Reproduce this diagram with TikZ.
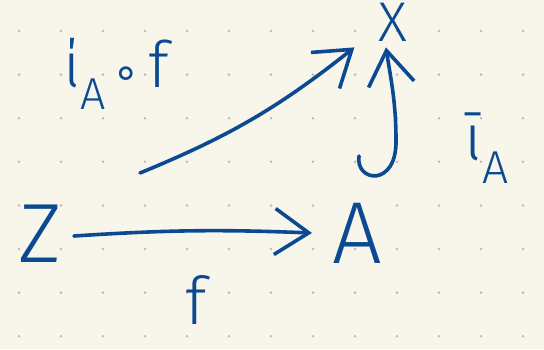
\documentclass[tikz,border=0pt]{standalone}
\usepackage{fontspec}
\setmainfont{Fira Sans}[UprightFont={* Light}]
\newfontfamily\dvfont{DejaVu Sans}
\usetikzlibrary{arrows.meta,calc}
\definecolor{ink}{HTML}{0B4A93}
\definecolor{paper}{HTML}{F8F6EB}
\definecolor{dotc}{HTML}{BDBBB4}
\tikzset{
  obj/.style={inner sep=0pt, text=ink},
  lbl/.style={inner sep=0pt, text=ink},
  arr/.style={draw=ink, line width=3.6pt, line cap=round,
    -{Straight Barb[length=34pt,width=46pt,line width=3.6pt]}},
}
\begin{document}
\begin{tikzpicture}[x=1pt,y=-1pt]
\fill[paper] (0,0) rectangle (544,349);
\useasboundingbox (0,0) rectangle (544,349);
\foreach \i in {0,...,12}{
  \foreach \j in {0,...,7}{
    \fill[dotc] ({19+42*\i},{31+43.6*\j}) circle (1.4pt);
  }
}
\node[obj, font=\fontsize{84}{84}\selectfont] (Z) at (40,234) {Z};
\node[obj, font=\fontsize{88}{88}\selectfont] (A) at (357,233) {A};
\node[obj, font=\fontsize{56}{56}\selectfont] (X) at (393,22) {X};
\node[lbl, font=\fontsize{66}{66}\selectfont] (lf) at (196,300) {f};
\node[lbl, font=\fontsize{64}{64}\selectfont] (lc) at (116,74) {ί\textsubscript{A}\kern6pt{\dvfont\fontsize{44}{44}\selectfont ∘}\kern8pt f};
\node[lbl, font=\fontsize{66}{66}\selectfont] (li) at (487,148) {ῑ\textsubscript{A}};
\coordinate (s1) at (140,173);
\coordinate (hs) at (359,156);
\draw[arr] ($(Z.east)+(12,2)$) to[bend left=3] ($(A.west)+(-20,0)$);
\draw[arr] (s1) to[bend right=8] ($(X.south west)+(-24,6)$);
\draw[arr] (hs) .. controls (355,182) and (397,188) .. (396,140)
  .. controls (396,100) and (390,75) .. ($(X.south)+(-7,6)$);
\end{tikzpicture}
\end{document}
